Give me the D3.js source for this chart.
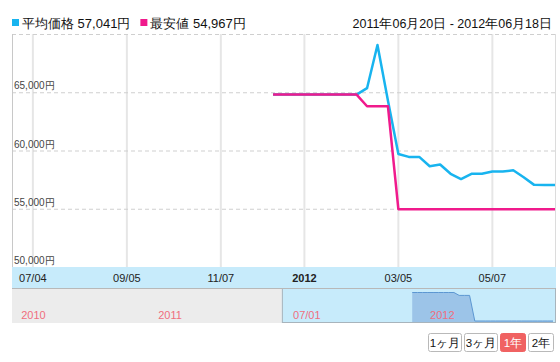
<!DOCTYPE html>
<html>
<head>
<meta charset="utf-8">
<script src="https://cdn.jsdelivr.net/npm/d3@7"></script>
<style>
  body { margin: 0; background: #fff; }
  svg { font-family: "Liberation Sans", Arial, sans-serif; }
</style>
</head>
<body>
<svg width="560" height="362"></svg>
<script>
// ***********************************
// Data (weekly prices)
var dates = ["2011-12-12","2011-12-19","2011-12-26","2012-01-02","2012-01-09","2012-01-16",
  "2012-01-23","2012-01-30","2012-02-06","2012-02-13","2012-02-20","2012-02-27","2012-03-05",
  "2012-03-12","2012-03-19","2012-03-26","2012-04-02","2012-04-09","2012-04-16","2012-04-23",
  "2012-04-30","2012-05-07","2012-05-14","2012-05-21","2012-05-28","2012-06-04","2012-06-11","2012-06-18"];
var avgPrice = [64800,64800,64800,64800,64800,64800,64800,64800,64800,65350,69050,64300,59700,
  59450,59450,58650,58800,58000,57550,58000,58000,58200,58200,58300,57700,57050,57041,57041];
var minPrice = [64800,64800,64800,64800,64800,64800,64800,64800,64800,63800,63800,63800,54967,
  54967,54967,54967,54967,54967,54967,54967,54967,54967,54967,54967,54967,54967,54967,54967];

var seriesNames = ["平均価格 57,041円", "最安値 54,967円"];
var rangeText = "2011年06月20日 - 2012年06月18日";

var xTicks = ["2011-07-04","2011-09-05","2011-11-07","2012-01-02","2012-03-05","2012-05-07"];
var xTickLabels = ["07/04","09/05","11/07","2012","03/05","05/07"];
var yTicks = [50000, 55000, 60000, 65000];

var navTicks = ["2010-07-01","2011-01-01","2011-07-01","2012-01-01"];
var navTickLabels = ["2010","2011","07/01","2012"];

var buttons = ["1ヶ月","3ヶ月","1年","2年"];

// ***********************************
// Layout
var svg = d3.select("svg");
var parse = d3.utcParse("%Y-%m-%d");
var blue = "#18b4ef", pink = "#f01a8c";

var plot = {left: 12, right: 555, top: 34, bottom: 267};

var x = d3.scaleUtc()
  .domain([parse("2011-06-20"), parse("2012-06-18")])
  .range([plot.left, plot.right]);
var y = d3.scaleLinear()
  .domain([50000, 70000])
  .range([plot.bottom, plot.top]);

// navigator scales (two years)
var navX = d3.scaleUtc()
  .domain([parse("2010-06-20"), parse("2012-06-18")])
  .range([10, 553]);
var navY = d3.scaleLinear()
  .domain([54967, 64800])
  .range([321, 292.5]);

// vertical grid lines
svg.append("g").selectAll("line")
  .data(xTicks)
  .enter().append("line")
  .attr("x1", function(d) { return x(parse(d)); })
  .attr("x2", function(d) { return x(parse(d)); })
  .attr("y1", plot.top)
  .attr("y2", plot.bottom)
  .attr("stroke", "#e6e6e6")
  .attr("stroke-width", 2);

// horizontal dashed grid lines
svg.append("g").selectAll("line")
  .data(yTicks.slice(1).concat([70000]))
  .enter().append("line")
  .attr("x1", plot.left)
  .attr("x2", plot.right)
  .attr("y1", function(d) { return y(d) + 0.5; })
  .attr("y2", function(d) { return y(d) + 0.5; })
  .attr("stroke", "#cfcfcf")
  .attr("stroke-dasharray", "4,3");

// side borders
svg.append("line").attr("x1", plot.left + 0.5).attr("x2", plot.left + 0.5)
  .attr("y1", plot.top).attr("y2", plot.bottom).attr("stroke", "#c8c8c8");
svg.append("line").attr("x1", plot.right + 0.5).attr("x2", plot.right + 0.5)
  .attr("y1", plot.top).attr("y2", plot.bottom).attr("stroke", "#dcdcdc");

// y labels (above the grid line)
svg.append("g").selectAll("text")
  .data(yTicks)
  .enter().append("text")
  .attr("x", 14)
  .attr("y", function(d) { return y(d) - 3; })
  .attr("font-size", "10px")
  .attr("fill", "#444")
  .text(function(d) { return d3.format(",")(d) + "円"; });

// price lines
var line = d3.line()
  .x(function(d, i) { return x(parse(dates[i])); })
  .y(function(d) { return y(d); });

svg.append("path")
  .datum(avgPrice)
  .attr("d", line)
  .attr("fill", "none")
  .attr("stroke", blue)
  .attr("stroke-width", 2.5)
  .attr("stroke-linejoin", "round");

svg.append("path")
  .datum(minPrice)
  .attr("d", line)
  .attr("fill", "none")
  .attr("stroke", pink)
  .attr("stroke-width", 2.5)
  .attr("stroke-linejoin", "round");

// x axis band
svg.append("rect")
  .attr("x", plot.left).attr("y", plot.bottom)
  .attr("width", plot.right - plot.left + 1).attr("height", 21)
  .attr("fill", "#c7ebfb");

svg.append("g").selectAll("text")
  .data(xTicks)
  .enter().append("text")
  .attr("x", function(d) { return x(parse(d)); })
  .attr("y", 282)
  .attr("text-anchor", "middle")
  .attr("font-size", "11px")
  .attr("font-weight", function(d, i) { return xTickLabels[i] == "2012" ? "bold" : "normal"; })
  .attr("fill", "#222")
  .text(function(d, i) { return xTickLabels[i]; });

// ***********************************
// Navigator
var navTop = 289, navBottom = 323;
var selStart = navX(parse("2011-06-20"));

svg.append("rect")
  .attr("x", plot.left).attr("y", navTop)
  .attr("width", selStart - plot.left).attr("height", navBottom - navTop)
  .attr("fill", "#ececec");
svg.append("rect")
  .attr("x", selStart).attr("y", navTop)
  .attr("width", plot.right - selStart).attr("height", navBottom - navTop)
  .attr("fill", "#c7ebfb");

var navArea = d3.area()
  .x(function(d, i) { return navX(parse(dates[i])); })
  .y0(navBottom - 1)
  .y1(function(d) { return navY(d); });

svg.append("path")
  .datum(minPrice)
  .attr("d", navArea)
  .attr("fill", "#9cc4e8");
svg.append("path")
  .datum(minPrice)
  .attr("d", navArea.lineY1())
  .attr("fill", "none")
  .attr("stroke", "#5c97d2")
  .attr("stroke-width", 1);

// navigator outline
svg.append("rect")
  .attr("x", selStart + 0.5).attr("y", navTop - 0.5)
  .attr("width", plot.right - selStart).attr("height", navBottom - navTop)
  .attr("fill", "none")
  .attr("stroke", "#a8b4bc");
svg.append("line")
  .attr("x1", plot.left).attr("x2", plot.right)
  .attr("y1", navTop - 0.5).attr("y2", navTop - 0.5)
  .attr("stroke", "#b8b8b8");

svg.append("g").selectAll("text")
  .data(navTicks)
  .enter().append("text")
  .attr("x", function(d) { return navX(parse(d)) + 3; })
  .attr("y", 319)
  .attr("font-size", "11px")
  .attr("fill", "#f06e7e")
  .text(function(d, i) { return navTickLabels[i]; });

// ***********************************
// Legend and date range
var legend = svg.append("g");
var lx = 12;
seriesNames.forEach(function(name, i) {
  legend.append("rect")
    .attr("x", lx).attr("y", 19)
    .attr("width", 7).attr("height", 7)
    .attr("fill", i == 0 ? blue : pink);
  var t = legend.append("text")
    .attr("x", lx + 10).attr("y", 28)
    .attr("font-size", "13px")
    .attr("fill", "#111")
    .text(name);
  lx += t.node().getComputedTextLength() + 20;
});

svg.append("text")
  .attr("x", 552).attr("y", 28)
  .attr("text-anchor", "end")
  .attr("font-size", "12.5px")
  .attr("fill", "#111")
  .text(rangeText);

// ***********************************
// Range buttons
var bx = 428;
buttons.forEach(function(b, i) {
  var g = svg.append("g");
  var w = b.length == 3 ? 33 : 25;
  var active = b == "1年";
  g.append("rect")
    .attr("x", bx + 0.5).attr("y", 333.5)
    .attr("width", w).attr("height", 18)
    .attr("rx", 2)
    .attr("fill", active ? "#f06262" : "#fff")
    .attr("stroke", active ? "#f06262" : "#b9b9b9");
  g.append("text")
    .attr("x", bx + 0.5 + w / 2).attr("y", 347)
    .attr("text-anchor", "middle")
    .attr("font-size", "11.5px")
    .attr("fill", active ? "#fff" : "#111")
    .text(b);
  bx += w + 3;
});
</script>
</body>
</html>
